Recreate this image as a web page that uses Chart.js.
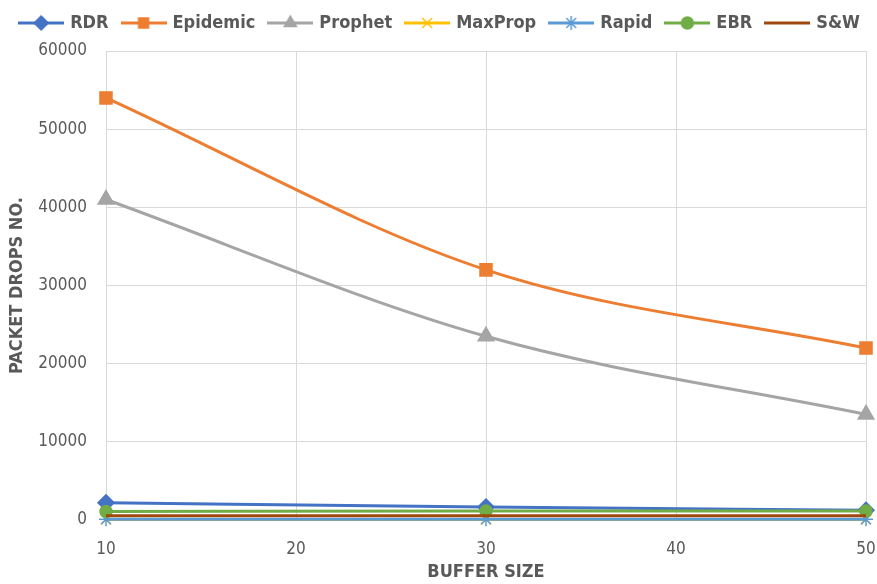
<!DOCTYPE html>
<html>
<head>
<meta charset="utf-8">
<script src="https://cdn.jsdelivr.net/npm/chart.js@4/dist/chart.umd.min.js"></script>
<style>
  html, body { margin: 0; padding: 0; background: #fff; }
  #wrap { width: 877px; height: 584px; }
</style>
</head>
<body>
<div id="wrap"><canvas id="c" width="877" height="584"></canvas></div>
<script>
// Buffer sizes where measurements were taken
const bufferSizes = [10, 30, 50];
const xTicks = [10, 20, 30, 40, 50];

// Packet drops per routing protocol
const rdr      = [2200, 1650, 1250];
const epidemic = [54000, 32000, 22000];
const prophet  = [41000, 23500, 13500];
const maxprop  = [50, 50, 50];
const rapid    = [100, 100, 100];
const ebr      = [1100, 1150, 1150];
const sw       = [550, 550, 550];

const FONT = "'DejaVu Sans Condensed', 'Liberation Sans Narrow', sans-serif";
const TXT = '#595959';

const series = [
  { label: 'RDR',      data: rdr,      color: '#4472C4', style: 'rectRot',  r: 8 },
  { label: 'Epidemic', data: epidemic, color: '#ED7D31', style: 'rect',     r: 8.5 },
  { label: 'Prophet',  data: prophet,  color: '#A5A5A5', style: 'triangle', r: 9 },
  { label: 'MaxProp',  data: maxprop,  color: '#FFC000', style: 'crossRot', r: 7 },
  { label: 'Rapid',    data: rapid,    color: '#5B9BD5', style: 'star',     r: 7 },
  { label: 'EBR',      data: ebr,      color: '#70AD47', style: 'circle',   r: 6 },
  { label: 'S&W',      data: sw,       color: '#9E480E', style: false,      r: 0 }
];

// Legend swatch: a short line segment with the series marker in its middle
const SW_W = 46, SW_H = 18;
function swatch(s) {
  const cv = document.createElement('canvas');
  cv.width = SW_W; cv.height = SW_H;
  const ctx = cv.getContext('2d');
  ctx.strokeStyle = s.color;
  ctx.lineWidth = 3;
  ctx.beginPath(); ctx.moveTo(0, SW_H / 2); ctx.lineTo(SW_W, SW_H / 2); ctx.stroke();
  if (s.style) {
    ctx.fillStyle = s.color;
    ctx.strokeStyle = s.color;
    ctx.lineWidth = 1.5;
    Chart.helpers.drawPoint(ctx, { pointStyle: s.style, radius: Math.min(s.r, 7), rotation: 0, borderWidth: 1.5 }, SW_W / 2, SW_H / 2);
  }
  return cv;
}

// Later series are painted above earlier ones
const datasets = series.map((s, i) => ({
  label: s.label,
  order: series.length - i,
  data: bufferSizes.map((x, j) => ({ x: x, y: s.data[j] })),
  borderColor: s.color,
  backgroundColor: s.color,
  borderWidth: 3,
  tension: 0.4,
  cubicInterpolationMode: 'monotone',
  pointStyle: s.style,
  pointRadius: s.r,
  pointHoverRadius: s.r,
  pointBorderWidth: 1.5,
  pointBorderColor: s.color,
  pointBackgroundColor: s.color,
  clip: false
}));

const swatches = series.map(swatch);

// Pull the legend row closer to the top edge
const legendLift = {
  id: 'legendLift',
  afterLayout(chart) {
    if (chart.legend) {
      chart.legend.top -= 9;
      chart.legend.bottom -= 9;
    }
  }
};

new Chart(document.getElementById('c'), {
  type: 'line',
  data: { datasets: datasets },
  plugins: [legendLift],
  options: {
    responsive: false,
    animation: false,
    devicePixelRatio: 1,
    layout: { padding: { left: 4, right: 0, top: 0, bottom: 0 } },
    plugins: {
      tooltip: { enabled: false },
      legend: {
        position: 'top',
        labels: {
          usePointStyle: true,
          pointStyleWidth: 40,
          boxHeight: 18,
          padding: 15,
          color: TXT,
          font: { family: FONT, size: 18, weight: 'bold' },
          generateLabels: chart => chart.data.datasets.map((d, i) => ({
            text: d.label,
            pointStyle: swatches[i],
            fontColor: TXT,
            lineWidth: 0,
            hidden: false,
            datasetIndex: i
          }))
        }
      }
    },
    scales: {
      x: {
        type: 'linear',
        min: 10, max: 50,
        afterBuildTicks: axis => { axis.ticks = xTicks.map(v => ({ value: v })); },
        afterFit: axis => { axis.paddingRight = 11; axis.paddingLeft = 0; axis.height = 64; },
        grid: { color: '#D9D9D9', drawTicks: false, lineWidth: 1 },
        border: { display: false },
        ticks: { color: TXT, padding: 19, font: { family: FONT, size: 17 }, callback: v => String(v) },
        title: {
          display: true, text: 'BUFFER SIZE', color: TXT, padding: { top: 0, bottom: 1 },
          font: { family: FONT, size: 18, weight: 'bold' }
        }
      },
      y: {
        min: 0, max: 60000,
        afterFit: axis => { axis.paddingTop = 51; axis.paddingBottom = 0; axis.width = 102; },
        ticks: { stepSize: 10000, color: TXT, padding: 19, font: { family: FONT, size: 17 }, callback: v => String(v) },
        grid: { color: '#D9D9D9', drawTicks: false, lineWidth: 1 },
        border: { display: false },
        title: {
          display: true, text: 'PACKET DROPS NO.', color: TXT, padding: { top: 3, bottom: 0 },
          font: { family: FONT, size: 18, weight: 'bold' }
        }
      }
    }
  }
});
</script>
</body>
</html>
